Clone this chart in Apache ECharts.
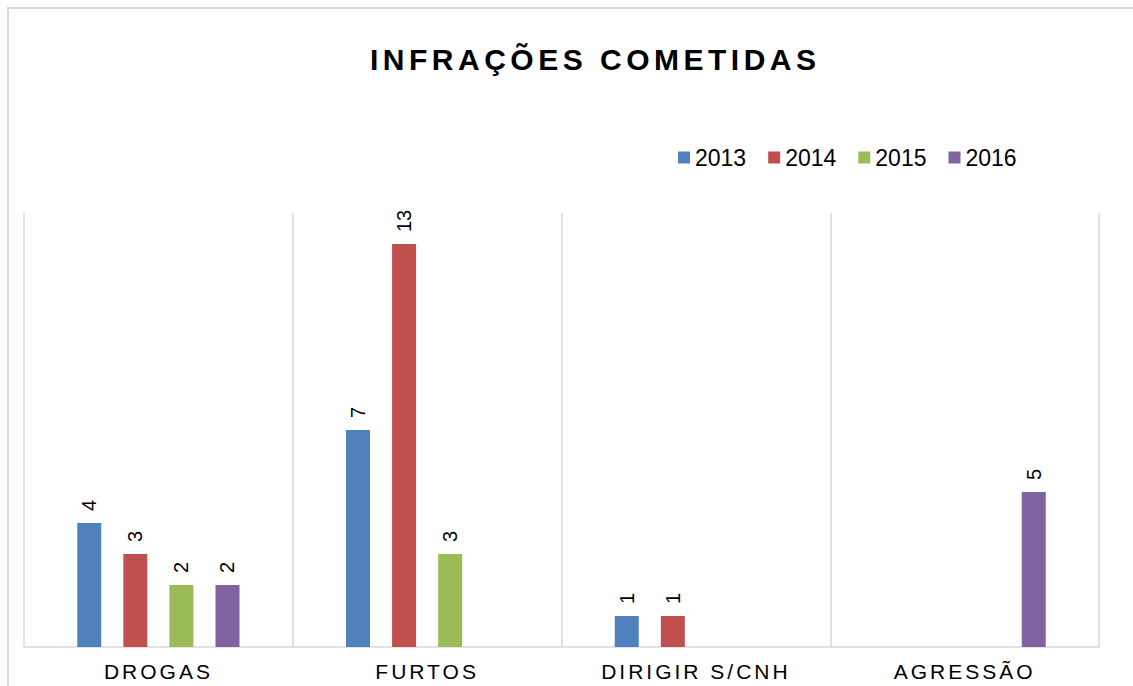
<!DOCTYPE html>
<html>
<head>
<meta charset="utf-8">
<script src="https://cdn.jsdelivr.net/npm/echarts@6/dist/echarts.min.js"></script>
<style>
  html, body { margin: 0; padding: 0; background: #fff; }
  #chart { width: 1133px; height: 686px; }
  /* letter spacing for title and category labels (svg renderer) */
  #chart text[style*="30px"] { letter-spacing: 4.5px; }
  #chart text[style*="21px"] { letter-spacing: 3px; }
</style>
</head>
<body>
<div id="chart"></div>
<script>
const categories = ['DROGAS', 'FURTOS', 'DIRIGIR S/CNH', 'AGRESSÃO'];
const years = ['2013', '2014', '2015', '2016'];
const values2013 = [4, 7, 1, null];
const values2014 = [3, 13, 1, null];
const values2015 = [2, 3, null, null];
const values2016 = [2, null, null, 5];
const colors = ['#4F81BD', '#C0504D', '#9BBB59', '#8064A2'];

const font = "'Liberation Sans', Arial, sans-serif";
const chart = echarts.init(document.getElementById('chart'), null, { renderer: 'svg' });

function makeSeries(name, data, color) {
  return {
    name: name,
    type: 'bar',
    data: data,
    barWidth: 24,
    barGap: '92%',
    itemStyle: { color: color },
    label: {
      show: true,
      position: 'top',
      rotate: 90,
      align: 'left',
      verticalAlign: 'middle',
      distance: 12,
      color: '#000',
      fontSize: 20,
      fontFamily: font,
    },
  };
}

const option = {
  animation: false,
  color: colors,
  graphic: [
    {
      type: 'rect',
      shape: { x: 8, y: 8, width: 1140, height: 700 },
      style: { fill: 'none', stroke: '#D9D9D9', lineWidth: 2 },
      silent: true,
    },
  ],
  title: {
    text: 'INFRAÇÕES COMETIDAS',
    left: 365,
    top: 39,
    textStyle: {
      fontSize: 30,
      fontWeight: 'bold',
      color: '#000',
      fontFamily: font,
    },
  },
  legend: {
    data: years,
    left: 673,
    top: 141,
    icon: 'rect',
    itemWidth: 12,
    itemHeight: 12,
    itemGap: 22,
    textStyle: { fontSize: 23, color: '#000', fontFamily: font },
  },
  grid: {
    left: 24,
    right: 34,
    top: 213,
    bottom: 39,
  },
  xAxis: {
    type: 'category',
    data: categories,
    axisLine: { lineStyle: { color: '#D9D9D9', width: 1.5 } },
    axisTick: { show: false },
    splitLine: { show: true, lineStyle: { color: '#D9D9D9', width: 1.5 } },
    axisLabel: {
      margin: 14,
      fontSize: 21,
      color: '#000',
      fontFamily: font,
    },
  },
  yAxis: {
    type: 'value',
    min: 0,
    max: 14,
    show: false,
  },
  series: [
    makeSeries(years[0], values2013, colors[0]),
    makeSeries(years[1], values2014, colors[1]),
    makeSeries(years[2], values2015, colors[2]),
    makeSeries(years[3], values2016, colors[3]),
  ],
};

chart.setOption(option);
</script>
</body>
</html>
